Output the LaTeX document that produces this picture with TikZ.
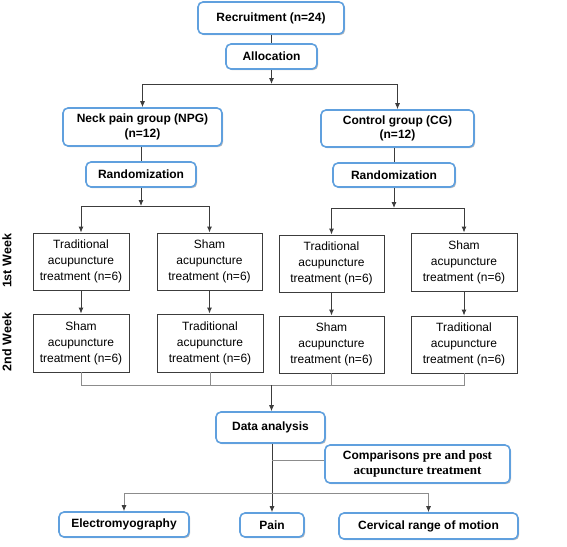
\documentclass[tikz,border=0pt]{standalone}
\usepackage{fontspec}
\setmainfont{Liberation Sans}
\newfontfamily\serifb{Liberation Serif}
\usetikzlibrary{arrows.meta,shadows,positioning}
\definecolor{boxblue}{RGB}{96,160,222}
\definecolor{linedark}{RGB}{60,60,60}
\definecolor{linegray}{RGB}{140,140,140}
\tikzset{
  bluebox/.style={draw=boxblue, line width=1.6pt, rounded corners=5pt, fill=white,
    font=\fontsize{12}{14.5}\selectfont\bfseries, align=center, inner sep=2pt,
    drop shadow={shadow xshift=1.2pt, shadow yshift=-1.2pt, opacity=0.25, fill=black}},
  treatbox/.style={draw=linedark, line width=0.9pt, fill=white,
    font=\fontsize{12}{16}\selectfont, align=center, inner sep=2pt},
  arr/.style={draw=linedark, line width=0.9pt, -{Latex[length=6pt,width=5pt]}},
  ln/.style={draw=linedark, line width=0.9pt},
  lngray/.style={draw=linegray, line width=0.9pt},
  grayarr/.style={draw=linegray, line width=0.9pt, -{Latex[length=6pt,width=5pt,color=linedark]}},
  weeklbl/.style={font=\fontsize{12.5}{14}\selectfont\bfseries, rotate=90}
}
\begin{document}
\begin{tikzpicture}[x=1pt,y=-1pt]
\useasboundingbox (0,0) rectangle (567,546);

% blue boxes
\node[bluebox, minimum width=146pt, minimum height=32pt] (rec) at (271,18) {Recruitment (n=24)};
\node[bluebox, minimum width=91pt, minimum height=25pt] (alloc) at (271.5,56.5) {Allocation};
\node[bluebox, minimum width=159pt, minimum height=38pt] (npg) at (142.5,127) {Neck pain group (NPG)\\(n=12)};
\node[bluebox, minimum width=153pt, minimum height=37pt] (cg) at (397.5,128.5) {Control group (CG)\\(n=12)};
\node[bluebox, minimum width=110pt, minimum height=25pt] (rand1) at (141,174.5) {Randomization};
\node[bluebox, minimum width=122pt, minimum height=24pt] (rand2) at (394,175) {Randomization};

% treatment boxes
\node[treatbox, minimum width=96pt, minimum height=57pt] (t1) at (81,261.5) {Traditional\\acupuncture\\treatment (n=6)};
\node[treatbox, minimum width=105pt, minimum height=57pt] (t2) at (209.5,261.5) {Sham\\acupuncture\\treatment (n=6)};
\node[treatbox, minimum width=105pt, minimum height=57pt] (t3) at (331.5,263.5) {Traditional\\acupuncture\\treatment (n=6)};
\node[treatbox, minimum width=106pt, minimum height=58pt] (t4) at (464,262) {Sham\\acupuncture\\treatment (n=6)};
\node[treatbox, minimum width=96pt, minimum height=58pt] (s5) at (81,343) {Sham\\acupuncture\\treatment (n=6)};
\node[treatbox, minimum width=106pt, minimum height=58pt] (s6) at (210,343) {Traditional\\acupuncture\\treatment (n=6)};
\node[treatbox, minimum width=105pt, minimum height=57pt] (s7) at (331.5,344.5) {Sham\\acupuncture\\treatment (n=6)};
\node[treatbox, minimum width=106pt, minimum height=57pt] (s8) at (464,344.5) {Traditional\\acupuncture\\treatment (n=6)};

% week labels
\node[weeklbl] (w1) at (7,261) {1st Week};
\node[weeklbl] (w2) at (7,342) {2nd Week};

% bottom boxes
\node[bluebox, minimum width=109pt, minimum height=31pt] (da) at (270.5,427.5) {Data analysis};
\node[bluebox, minimum width=185pt, minimum height=38pt] (cmp) at (417.5,464) {Comparisons {\serifb\fontsize{13}{15}\selectfont pre and post}\\{\serifb\fontsize{13}{15}\selectfont acupuncture treatment}};
\node[bluebox, minimum width=130pt, minimum height=25pt] (emg) at (124,524.5) {Electromyography};
\node[bluebox, minimum width=64pt, minimum height=24pt] (pain) at (272,525) {Pain};
\node[bluebox, minimum width=179pt, minimum height=26pt] (crom) at (428.5,526) {Cervical range of motion};

% junction coordinates
\coordinate (j1) at (271.5,84);
\coordinate (j2) at (141,206);
\coordinate (j3) at (394,208);
\coordinate (j4) at (271.5,385);
\coordinate (j5) at (272,460);
\coordinate (j6) at (272,493);

% connectors top
\draw[ln] (rec.south -| alloc.north) -- (alloc.north);
\draw[arr] (alloc.south) -- (j1);
\draw[arr] (j1) -| (npg.north);
\draw[arr] (j1) -| (cg.north);
\draw[ln] (npg.south -| rand1.north) -- (rand1.north);
\draw[ln] (cg.south -| rand2.north) -- (rand2.north);
\draw[arr] (rand1.south) -- (j2);
\draw[arr] (j2) -| (t1.north);
\draw[arr] (j2) -| (t2.north);
\draw[arr] (rand2.south) -- (j3);
\draw[arr] (j3) -| (t3.north);
\draw[arr] (j3) -| (t4.north);

% week transitions
\draw[arr] (t1.south) -- (s5.north -| t1.south);
\draw[arr] (t2.south) -- (s6.north -| t2.south);
\draw[arr] (t3.south) -- (s7.north -| t3.south);
\draw[arr] (t4.south) -- (s8.north -| t4.south);

% gathering
\draw[lngray] (s5.south) |- (j4);
\draw[lngray] (s6.south) |- (j4);
\draw[lngray] (s7.south) |- (j4);
\draw[lngray] (s8.south) |- (j4);
\draw[arr] (j4) -- (da.north -| j4);

% analysis
\draw[arr] (da.south -| pain.north) -- (pain.north);
\draw[lngray] (j5) -- (j5 -| cmp.west);
\draw[grayarr] (j6) -| (emg.north);
\draw[grayarr] (j6) -| (crom.north);
\end{tikzpicture}
\end{document}
